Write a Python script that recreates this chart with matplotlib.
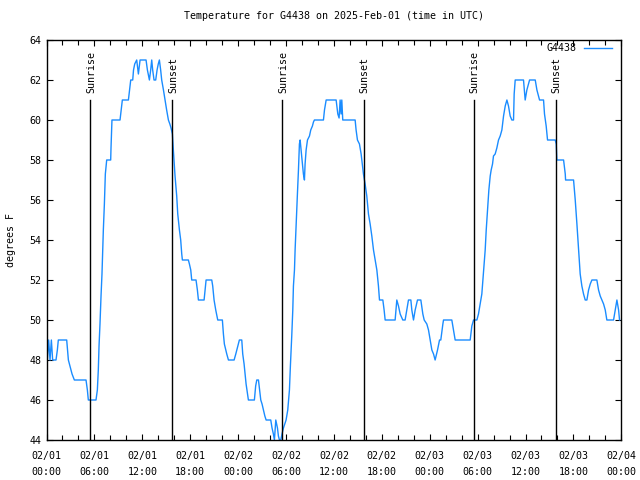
import matplotlib
matplotlib.use("Agg")
import matplotlib.pyplot as plt
from matplotlib.ticker import MultipleLocator

# hours since 2025-02-01 00:00 UTC and temperature (deg F)
hours = [
    0.10, 0.27, 0.44, 0.61, 0.77, 1.19, 1.36, 1.48, 2.53, 2.74, 2.94, 3.20, 3.49, 4.95,
    5.12, 5.24, 6.20, 6.37, 6.49, 6.58, 6.70, 6.83, 6.95, 7.04, 7.12, 7.25, 7.37, 7.54,
    8.04, 8.08, 8.20, 9.21, 9.35, 9.50, 10.26, 10.40, 10.55, 10.80, 10.90, 11.05, 11.30,
    11.51, 11.72, 12.47, 12.64, 12.89, 13.05, 13.18, 13.30, 13.47, 13.68, 13.85, 14.00,
    14.14, 14.30, 14.43, 14.65, 14.85, 15.05, 15.27, 15.45, 15.60, 15.77,
    15.89, 16.10, 16.31, 16.44, 16.65, 16.81, 16.94, 17.02, 17.77, 17.90, 18.07, 18.19,
    18.73, 18.90, 19.03, 19.74, 19.86, 19.99, 20.70, 20.82, 20.99, 21.20, 21.45, 22.03,
    22.16, 22.28, 22.58, 22.79, 23.50, 23.71, 23.96, 24.16, 24.46, 24.58, 24.75, 24.87,
    25.00, 25.29, 26.04, 26.20, 26.34, 26.55, 26.70, 26.84, 27.00, 27.17, 27.35, 27.51,
    28.09, 28.25, 28.42, 28.55, 28.72, 28.93, 29.05, 29.18, 29.35, 29.50,
    29.68, 30.01, 30.22, 30.43, 30.55, 30.72, 30.85, 30.93, 31.06, 31.14, 31.27, 31.43,
    31.56, 31.68, 31.77, 31.89, 32.06, 32.18, 32.31, 32.39, 32.52, 32.69, 32.94, 33.10,
    33.31, 33.44, 33.56, 34.69, 34.82, 35.03, 36.28, 36.49, 36.65, 36.78, 36.90, 36.99,
    37.11, 38.66, 38.78, 38.95, 39.20, 39.41, 39.58,
    39.70, 39.91, 40.12, 40.33, 40.54, 40.75, 40.96, 41.17, 41.38, 41.58, 41.71, 42.13,
    42.29, 42.42, 43.67, 43.88, 44.09, 44.30, 44.63, 44.92, 45.13, 45.34, 45.64, 45.76,
    45.97, 46.18, 46.47, 46.89, 47.14, 47.31, 47.64, 47.85, 48.06, 48.27, 48.48, 48.68,
    48.98, 49.23, 49.39, 49.65, 49.73, 50.77, 50.98, 51.19, 53.07, 53.28, 53.49,
    53.91, 54.11, 54.32, 54.53, 54.66, 54.82, 54.95, 55.08, 55.24, 55.41, 55.58, 55.70,
    55.87, 55.99, 56.20, 56.41, 56.62, 56.83, 57.04, 57.25, 57.46, 57.67, 57.87, 58.08,
    58.29, 58.50, 58.58, 58.71, 59.75, 59.96, 60.17, 60.38, 60.51, 61.22, 61.43, 61.63,
    61.76, 62.26, 62.38, 62.59, 62.76, 63.72, 63.85, 63.93, 64.77, 64.98, 65.02, 66.02,
    66.23, 66.44, 66.65, 66.85, 67.06, 67.27, 67.48, 67.69, 67.90, 68.11, 68.32, 68.94,
    69.15, 69.36, 69.57, 69.78, 69.99, 70.19, 71.03, 71.24, 71.45, 71.66, 71.78,
]
temps = [
    48, 49, 48, 49, 48, 48, 48.5, 49, 49, 48, 47.7, 47.3, 47, 47,
    46.5, 46, 46, 46.5, 47.5, 48.7, 49.8, 51.2, 52.3, 53.5, 54.5, 55.8, 57.3, 58,
    58, 58.6, 60, 60, 60.5, 61, 61, 61.5, 62, 62, 62.5, 62.8, 63,
    62.3, 63, 63, 62.5, 62, 62.5, 63, 62.5, 62, 62, 62.5, 62.8,
    63, 62.5, 62, 61.5, 61, 60.5, 60, 59.8, 59.6, 59.3,
    58.5, 57.2, 56.2, 55.3, 54.5, 54, 53.3, 53, 53, 52.8, 52.5, 52,
    52, 51.5, 51, 51, 51.5, 52, 52, 51.7, 51, 50.5, 50, 50,
    49.3, 48.8, 48.3, 48, 48, 48.3, 48.7, 49, 49, 48.3, 47.8, 47.3,
    46.8, 46, 46, 46.7, 47, 47, 46.5, 46, 45.8, 45.5, 45.2, 45,
    45, 44.6, 44.3, 44, 45, 44.6, 44.2, 44, 44, 44.3,
    44.6, 45, 45.5, 46.5, 47.7, 49.2, 50.5, 51.7, 52.5, 53.5, 54.8, 56.3,
    57.5, 58.8, 59, 58.5, 57.8, 57.3, 57, 57.8, 58.5, 59, 59.2, 59.5,
    59.7, 59.9, 60, 60, 60.5, 61, 61, 60.3, 60.1, 61, 60.3, 61,
    60, 60, 59.5, 59, 58.8, 58.3, 57.7,
    57.3, 56.8, 56.2, 55.3, 54.8, 54.2, 53.5, 53, 52.5, 51.7, 51, 51,
    50.5, 50, 50, 51, 50.7, 50.3, 50, 50, 50.5, 51, 51, 50.5,
    50, 50.5, 51, 51, 50.3, 50, 49.8, 49.5, 49, 48.5, 48.3, 48,
    48.5, 49, 49, 49.8, 50, 50, 49.5, 49, 49, 49.7, 50,
    50, 50.3, 50.8, 51.3, 52, 52.8, 53.5, 54.5, 55.5, 56.5, 57.2, 57.5,
    57.8, 58.2, 58.3, 58.6, 59, 59.2, 59.5, 60.2, 60.7, 61, 60.7, 60.2,
    60, 60, 61.3, 62, 62, 61, 61.5, 61.8, 62, 62, 61.5, 61.2,
    61, 61, 60.3, 59.7, 59, 59, 58.8, 58, 58, 57.3, 57, 57,
    56, 54.8, 53.5, 52.3, 51.7, 51.3, 51, 51, 51.5, 51.8, 52, 52,
    51.5, 51.2, 51, 50.8, 50.5, 50, 50, 50.5, 51, 50.5, 50,
]

sunrise = [5.50, 29.55, 53.50]
sunset = [15.77, 39.72, 63.77]

tick_hours = [0, 6, 12, 18, 24, 30, 36, 42, 48, 54, 60, 66, 72]
tick_labels = ["02/01\n00:00", "02/01\n06:00", "02/01\n12:00", "02/01\n18:00",
               "02/02\n00:00", "02/02\n06:00", "02/02\n12:00", "02/02\n18:00",
               "02/03\n00:00", "02/03\n06:00", "02/03\n12:00", "02/03\n18:00",
               "02/04\n00:00"]

plt.rcParams['font.family'] = 'DejaVu Sans Mono'
plt.rcParams['font.size'] = 7.2

fig = plt.figure(figsize=(6.4, 4.8), dpi=100)
ax = fig.add_axes([46.5 / 640, 40 / 480, (621.3 - 46.5) / 640, 400 / 480])

ax.plot(hours, temps, color='#1a8cff', linewidth=1.0, label='G4438')

# sunrise / sunset markers
for t in sunrise:
    ax.plot([t, t], [44, 61], color='black', linewidth=1.0)
    ax.text(t + 0.15, 61.35, "Sunrise", rotation=90, ha='center', va='bottom')
for t in sunset:
    ax.plot([t, t], [44, 61], color='black', linewidth=1.0)
    ax.text(t + 0.15, 61.35, "Sunset", rotation=90, ha='center', va='bottom')

ax.set_xlim(0, 72)
ax.set_ylim(44, 64)
ax.set_xticks(tick_hours)
ax.set_xticklabels(tick_labels, linespacing=1.75)
ax.xaxis.set_minor_locator(MultipleLocator(2))
ax.yaxis.set_major_locator(MultipleLocator(2))
ax.tick_params(which='both', direction='in', top=True, right=True, length=4.5, width=0.8)
ax.tick_params(which='minor', length=3.5)
ax.tick_params(axis='x', pad=8)
for s in ax.spines.values():
    s.set_linewidth(1.0)

ax.set_ylabel("degrees F", fontsize=7.2, labelpad=10)
ax.set_title("Temperature for G4438 on 2025-Feb-01 (time in UTC)", fontsize=7.2, pad=15)

leg = ax.legend(loc='upper right', bbox_to_anchor=(0.99, 1.0), frameon=False, fontsize=7.2,
                handlelength=2.8, handletextpad=0.8, borderaxespad=0.05, borderpad=0.3,
                markerfirst=False)

fig.savefig("out.png", dpi=100)
